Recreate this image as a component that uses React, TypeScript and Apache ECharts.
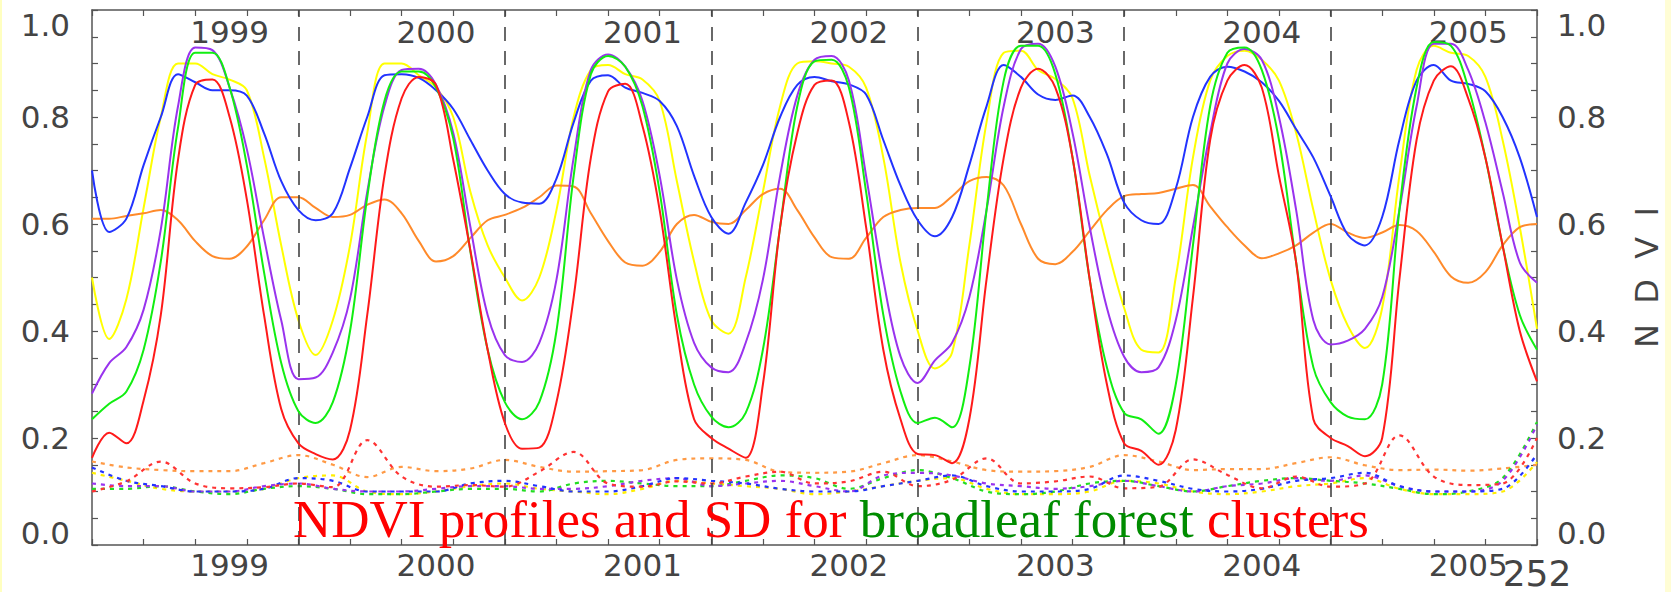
import React, { useEffect, useRef } from 'react';
import * as echarts from 'echarts';

// x = dekad index (36 per year, 1999..2005), profiles sampled every 3 dekads, SD every 6
const STEP = 3;
const SD_STEP = 6;
const X_MIN = 0;
const X_MAX = 252;
const yearLabels = ['1999', '2000', '2001', '2002', '2003', '2004', '2005'];
const yearLabelPos = [24, 60, 96, 132, 168, 204, 240];
const yearBoundaries = [36, 72, 108, 144, 180, 216];
const endLabel = '252';
const yTicks = [0, 0.2, 0.4, 0.6, 0.8, 1.0];

const blueNdvi = [
  0.70, 0.585, 0.61, 0.71, 0.80, 0.88, 0.865, 0.85, 0.85, 0.84, 0.77, 0.68,
  0.626, 0.607, 0.62, 0.705, 0.80, 0.878, 0.88, 0.873, 0.85, 0.815, 0.757, 0.70,
  0.656, 0.64, 0.638, 0.685, 0.79, 0.868, 0.878, 0.855, 0.845, 0.83, 0.783, 0.69,
  0.613, 0.582, 0.64, 0.71, 0.80, 0.86, 0.875, 0.867, 0.861, 0.842, 0.757, 0.672,
  0.607, 0.577, 0.613, 0.71, 0.82, 0.897, 0.875, 0.842, 0.832, 0.84, 0.80, 0.73,
  0.64, 0.607, 0.60, 0.666, 0.80, 0.875, 0.894, 0.885, 0.865, 0.83, 0.777, 0.724,
  0.652, 0.58, 0.56, 0.613, 0.757, 0.868, 0.897, 0.868, 0.862, 0.848, 0.80, 0.724,
  0.613,
];
const yellowNdvi = [
  0.50, 0.385, 0.46, 0.63, 0.80, 0.90, 0.90, 0.88, 0.87, 0.85, 0.725, 0.56,
  0.42, 0.355, 0.42, 0.56, 0.77, 0.90, 0.90, 0.878, 0.855, 0.80, 0.66, 0.56,
  0.50, 0.457, 0.50, 0.626, 0.80, 0.888, 0.897, 0.88, 0.87, 0.83, 0.68, 0.53,
  0.42, 0.395, 0.50, 0.66, 0.82, 0.90, 0.904, 0.90, 0.894, 0.855, 0.724, 0.528,
  0.40, 0.33, 0.36, 0.56, 0.79, 0.92, 0.924, 0.888, 0.871, 0.835, 0.69, 0.56,
  0.443, 0.365, 0.36, 0.50, 0.724, 0.868, 0.914, 0.924, 0.907, 0.868, 0.77, 0.626,
  0.496, 0.41, 0.368, 0.443, 0.69, 0.888, 0.933, 0.92, 0.914, 0.875, 0.757, 0.594,
  0.404,
];
const purpleNdvi = [
  0.283, 0.34, 0.37, 0.44, 0.59, 0.82, 0.93, 0.925, 0.855, 0.74, 0.574, 0.42,
  0.31, 0.313, 0.36, 0.46, 0.66, 0.82, 0.888, 0.89, 0.86, 0.77, 0.594, 0.43,
  0.355, 0.342, 0.378, 0.496, 0.724, 0.888, 0.917, 0.894, 0.83, 0.69, 0.496, 0.378,
  0.332, 0.323, 0.378, 0.496, 0.69, 0.84, 0.907, 0.914, 0.868, 0.69, 0.496, 0.352,
  0.303, 0.345, 0.378, 0.463, 0.626, 0.82, 0.927, 0.937, 0.894, 0.77, 0.594, 0.443,
  0.352, 0.323, 0.332, 0.42, 0.594, 0.77, 0.90, 0.927, 0.907, 0.80, 0.626, 0.42,
  0.375, 0.382, 0.404, 0.463, 0.626, 0.82, 0.937, 0.937, 0.888, 0.79, 0.66, 0.528,
  0.49,
];
const greenNdvi = [
  0.235, 0.264, 0.287, 0.365, 0.53, 0.78, 0.92, 0.92, 0.855, 0.71, 0.51, 0.34,
  0.25, 0.228, 0.267, 0.40, 0.65, 0.83, 0.885, 0.885, 0.855, 0.76, 0.548, 0.365,
  0.267, 0.235, 0.267, 0.40, 0.69, 0.88, 0.914, 0.894, 0.82, 0.66, 0.43, 0.30,
  0.24, 0.22, 0.247, 0.365, 0.594, 0.82, 0.904, 0.907, 0.855, 0.66, 0.43, 0.287,
  0.228, 0.238, 0.22, 0.332, 0.626, 0.868, 0.933, 0.933, 0.88, 0.724, 0.496, 0.332,
  0.247, 0.235, 0.208, 0.30, 0.56, 0.82, 0.92, 0.93, 0.888, 0.757, 0.528, 0.332,
  0.267, 0.24, 0.235, 0.30, 0.626, 0.855, 0.94, 0.933, 0.855, 0.724, 0.56, 0.43,
  0.365,
];
const redNdvi = [
  0.163, 0.21, 0.19, 0.27, 0.43, 0.72, 0.86, 0.87, 0.80, 0.646, 0.43, 0.254,
  0.19, 0.17, 0.16, 0.215, 0.43, 0.69, 0.835, 0.875, 0.86, 0.72, 0.55, 0.365,
  0.228, 0.18, 0.182, 0.267, 0.463, 0.724, 0.848, 0.862, 0.783, 0.626, 0.40, 0.235,
  0.20, 0.18, 0.163, 0.30, 0.594, 0.77, 0.86, 0.868, 0.79, 0.594, 0.365, 0.235,
  0.17, 0.168, 0.153, 0.235, 0.496, 0.724, 0.855, 0.89, 0.855, 0.724, 0.496, 0.30,
  0.19, 0.176, 0.15, 0.215, 0.463, 0.757, 0.868, 0.897, 0.855, 0.69, 0.528, 0.235,
  0.20, 0.185, 0.166, 0.20, 0.496, 0.757, 0.868, 0.895, 0.835, 0.724, 0.56, 0.40,
  0.306,
];
const orangeNdvi = [
  0.61, 0.61, 0.615, 0.62, 0.626, 0.607, 0.568, 0.54, 0.535, 0.558, 0.607, 0.65,
  0.65, 0.63, 0.613, 0.617, 0.636, 0.646, 0.62, 0.568, 0.53, 0.54, 0.574, 0.607,
  0.617, 0.63, 0.65, 0.672, 0.67, 0.62, 0.568, 0.528, 0.522, 0.548, 0.60, 0.617,
  0.604, 0.60, 0.626, 0.656, 0.666, 0.626, 0.575, 0.538, 0.535, 0.574, 0.613, 0.626,
  0.63, 0.63, 0.652, 0.68, 0.688, 0.672, 0.60, 0.535, 0.525, 0.548, 0.587, 0.626,
  0.652, 0.656, 0.658, 0.666, 0.673, 0.633, 0.594, 0.56, 0.536, 0.545, 0.56, 0.584,
  0.60, 0.584, 0.574, 0.584, 0.598, 0.587, 0.548, 0.502, 0.49, 0.51, 0.56, 0.594,
  0.60,
];

const orangeSd = [
  0.156, 0.145, 0.14, 0.138, 0.138, 0.153, 0.168, 0.15, 0.127, 0.146, 0.138, 0.143,
  0.159, 0.146, 0.137, 0.138, 0.14, 0.159, 0.162, 0.159, 0.137, 0.135, 0.137, 0.153,
  0.168, 0.156, 0.14, 0.137, 0.138, 0.146, 0.168, 0.156, 0.14, 0.142, 0.142, 0.153,
  0.164, 0.149, 0.14, 0.141, 0.139, 0.143, 0.15,
];
const redSd = [
  0.10, 0.119, 0.156, 0.115, 0.106, 0.108, 0.115, 0.108, 0.196, 0.128, 0.109, 0.112,
  0.109, 0.137, 0.174, 0.115, 0.109, 0.119, 0.115, 0.128, 0.137, 0.115, 0.119, 0.137,
  0.11, 0.122, 0.162, 0.115, 0.119, 0.128, 0.106, 0.109, 0.16, 0.131, 0.106, 0.128,
  0.109, 0.115, 0.205, 0.128, 0.112, 0.115, 0.20,
];
const blueSd = [
  0.145, 0.12, 0.11, 0.10, 0.10, 0.105, 0.125, 0.12, 0.10, 0.10, 0.10, 0.115,
  0.12, 0.11, 0.10, 0.10, 0.11, 0.125, 0.12, 0.115, 0.105, 0.10, 0.10, 0.11,
  0.12, 0.13, 0.11, 0.10, 0.10, 0.105, 0.13, 0.12, 0.105, 0.10, 0.105, 0.12,
  0.125, 0.135, 0.11, 0.10, 0.10, 0.105, 0.17,
];
const yellowSd = [
  0.135, 0.12, 0.105, 0.10, 0.10, 0.105, 0.125, 0.13, 0.10, 0.095, 0.10, 0.11,
  0.115, 0.105, 0.10, 0.095, 0.105, 0.12, 0.115, 0.11, 0.105, 0.095, 0.10, 0.11,
  0.12, 0.125, 0.105, 0.095, 0.095, 0.10, 0.12, 0.115, 0.10, 0.095, 0.10, 0.11,
  0.115, 0.125, 0.105, 0.095, 0.095, 0.10, 0.155,
];
const purpleSd = [
  0.115, 0.11, 0.11, 0.10, 0.10, 0.11, 0.115, 0.105, 0.10, 0.10, 0.105, 0.11,
  0.11, 0.105, 0.105, 0.11, 0.12, 0.125, 0.11, 0.115, 0.12, 0.11, 0.10, 0.13,
  0.135, 0.13, 0.115, 0.11, 0.105, 0.11, 0.12, 0.11, 0.10, 0.11, 0.115, 0.125,
  0.12, 0.13, 0.11, 0.10, 0.10, 0.12, 0.225,
];
const greenSd = [
  0.105, 0.105, 0.11, 0.10, 0.095, 0.105, 0.11, 0.105, 0.095, 0.095, 0.10, 0.105,
  0.105, 0.10, 0.115, 0.12, 0.115, 0.11, 0.11, 0.12, 0.13, 0.125, 0.105, 0.125,
  0.14, 0.125, 0.10, 0.095, 0.10, 0.115, 0.12, 0.11, 0.10, 0.11, 0.12, 0.125,
  0.12, 0.115, 0.105, 0.095, 0.10, 0.125, 0.23,
];

const profiles = [
  { name: 'yellow', values: yellowNdvi, color: '#FFFF00' },
  { name: 'orange', values: orangeNdvi, color: '#FF8A2A' },
  { name: 'blue', values: blueNdvi, color: '#2233FF' },
  { name: 'purple', values: purpleNdvi, color: '#9933EE' },
  { name: 'green', values: greenNdvi, color: '#11EE11' },
  { name: 'red', values: redNdvi, color: '#FF1A1A' },
];
const sds = [
  { name: 'orange SD', values: orangeSd, color: '#FF9A45' },
  { name: 'yellow SD', values: yellowSd, color: '#FFEE00' },
  { name: 'green SD', values: greenSd, color: '#22DD22' },
  { name: 'purple SD', values: purpleSd, color: '#9933EE' },
  { name: 'blue SD', values: blueSd, color: '#2233FF' },
  { name: 'red SD', values: redSd, color: '#FF3333' },
];

const AXIS_COLOR = '#555';
const LABEL_COLOR = '#444';
const LABEL_FONT = 'DejaVu Sans';

function yLabel(v: number) {
  const t = v.toFixed(1);
  if (v === yTicks[yTicks.length - 1]) return '{hi|' + t + '}';
  if (v === yTicks[0]) return '{lo|' + t + '}';
  return t;
}
const yRich = {
  hi: { padding: [30, 0, 0, 0], fontSize: 31, color: LABEL_COLOR, fontFamily: LABEL_FONT },
  lo: { padding: [0, 0, 24, 0], fontSize: 31, color: LABEL_COLOR, fontFamily: LABEL_FONT },
};
function yearAt(v: number) {
  const k = yearLabelPos.indexOf(v);
  return k >= 0 ? yearLabels[k] : '';
}

export default function App() {
  const ref = useRef<HTMLDivElement>(null);
  useEffect(() => {
    if (!ref.current) return;
    const chart = echarts.init(ref.current, null, { renderer: 'svg' });
    const tickAxis = (position: string) => ({
      type: 'value', position, min: X_MIN, max: X_MAX, interval: 9,
      axisLine: { show: true, onZero: false, lineStyle: { color: AXIS_COLOR, width: 1.5 } },
      axisTick: { show: true, inside: true, length: 6, lineStyle: { color: AXIS_COLOR, width: 1.2 } },
      axisLabel: { show: false }, splitLine: { show: false },
    });
    const labelAxis = (position: string, inside: boolean, margin: number) => ({
      type: 'value', position, min: X_MIN, max: X_MAX, interval: 12,
      axisLine: { show: false, onZero: false }, axisTick: { show: false }, splitLine: { show: false },
      axisLabel: {
        show: true, inside, margin, formatter: yearAt, fontSize: 31,
        color: LABEL_COLOR, fontFamily: LABEL_FONT,
      },
    });
    const yAxis = (position: string) => ({
      type: 'value', position, min: 0, max: 1, interval: 0.2,
      axisLine: { show: true, onZero: false, lineStyle: { color: AXIS_COLOR, width: 1.5 } },
      axisTick: { show: true, inside: true, length: 6, lineStyle: { color: AXIS_COLOR, width: 1.2 } },
      minorTick: { show: true, splitNumber: 4, length: 6, lineStyle: { color: AXIS_COLOR, width: 1.2 } },
      splitLine: { show: false },
      axisLabel: {
        formatter: yLabel, rich: yRich, fontSize: 31, color: LABEL_COLOR,
        fontFamily: LABEL_FONT, margin: position === 'left' ? 22 : 20,
      },
    });

    const series: any[] = [];
    profiles.forEach((p, idx) => {
      series.push({
        name: p.name, type: 'line', xAxisIndex: 0, yAxisIndex: 0,
        data: p.values.map((v, k) => [k * STEP, v]),
        smooth: 0.35, symbol: 'none', lineStyle: { color: p.color, width: 2 },
        z: 3 + idx,
        ...(idx === 0 ? {
          markLine: {
            silent: true, symbol: 'none', label: { show: false },
            lineStyle: { color: '#444', type: [14, 10], width: 1.6 },
            data: yearBoundaries.map((x) => ({ xAxis: x })),
          },
        } : {}),
      });
    });
    sds.forEach((s, idx) => {
      series.push({
        name: s.name, type: 'line', xAxisIndex: 0, yAxisIndex: 0,
        data: s.values.map((v, k) => [k * SD_STEP, v]),
        smooth: 0.35, symbol: 'none',
        lineStyle: { color: s.color, width: 2.2, type: [4, 5] },
        z: 2 + idx * 0.1,
      });
    });

    chart.setOption({
      animation: false,
      backgroundColor: '#FFFFFF',
      grid: { left: 92, right: 134, top: 10, bottom: 47, containLabel: false },
      xAxis: [
        tickAxis('bottom'),
        labelAxis('bottom', false, 4),
        {
          type: 'value', position: 'bottom', min: X_MIN, max: X_MAX, interval: X_MAX,
          axisLine: { show: false, onZero: false }, axisTick: { show: false }, splitLine: { show: false },
          axisLabel: {
            show: true, margin: 10, fontSize: 36, color: LABEL_COLOR, fontFamily: LABEL_FONT,
            formatter: (v: number) => (v === X_MAX ? endLabel : ''),
          },
        },
        tickAxis('top'),
        labelAxis('top', true, 6),
      ],
      yAxis: [
        yAxis('left'),
        {
          ...yAxis('right'),
          name: 'N  D  V  I', nameLocation: 'middle', nameRotate: 90, nameGap: 94,
          nameTextStyle: { fontSize: 32, color: LABEL_COLOR, fontFamily: LABEL_FONT },
        },
      ],
      graphic: [
        { type: 'rect', shape: { x: 1665, y: 0, width: 6, height: 592 }, style: { fill: '#FFFDD5' }, silent: true },
        { type: 'rect', shape: { x: 0, y: 0, width: 2, height: 592 }, style: { fill: '#FFFFC0' }, silent: true },
        {
          type: 'text', x: 293, y: 519, z: 50,
          style: {
            text: '{r|NDVI profiles and SD for }{g|broadleaf forest}{r| clusters}',
            verticalAlign: 'middle', align: 'left',
            rich: {
              r: { fill: '#FF0000', fontSize: 53, fontFamily: 'Liberation Serif' },
              g: { fill: '#008C00', fontSize: 53, fontFamily: 'Liberation Serif' },
            },
          },
        },
      ],
      series,
    });
    return () => chart.dispose();
  }, []);
  return (
    <div
      ref={ref}
      style={{ position: 'fixed', left: 0, top: 0, width: 1671, height: 592, background: '#fff' }}
    />
  );
}
